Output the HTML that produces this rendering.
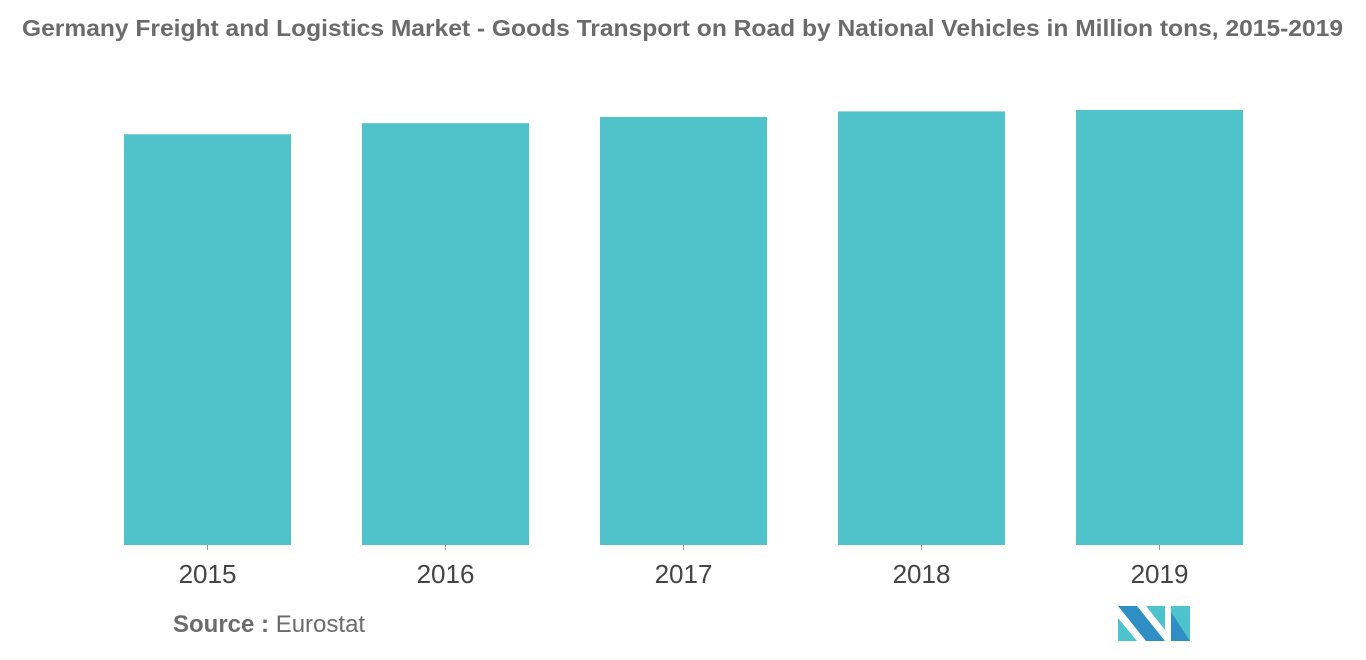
<!DOCTYPE html>
<html><head><meta charset="utf-8"><style>
body{margin:0;background:#fff;width:1366px;height:655px;overflow:hidden;font-family:"Liberation Sans",sans-serif}
</style></head><body>
<svg width="1366" height="655">
<text x="22" y="36" font-size="23" font-weight="bold" fill="#6b6b6b" textLength="1321" lengthAdjust="spacingAndGlyphs">Germany Freight and Logistics Market - Goods Transport on Road by National Vehicles in Million tons, 2015-2019</text>
<g id="bars"></g>
<text x="173" y="632" font-size="24" fill="#6b6b6b"><tspan font-weight="bold">Source :</tspan> Eurostat</text>
<g>
<polygon points="1118,606 1137,606 1165,641 1146,641" fill="#2f8fc4"/>
<polygon points="1118,618 1137,641 1118,641" fill="#4ec3cb"/>
<polygon points="1146,606 1165,606 1165,630" fill="#4ec3cb"/>
<polygon points="1171,606 1190,606 1190,641 1171,641" fill="#4ec3cb"/>
<polygon points="1171,612 1190,641 1171,641" fill="#2f8fc4"/>
</g>
</svg>
<script>
const categories=["2015","2016","2017","2018","2019"];
const values=[2960,3040,3085,3125,3135];
const baseY=545, yMax=3135, hMax=435, left=124, step=238, barW=167;
function y(v){return baseY - v/yMax*hMax;}
function x(i){return left+i*step;}
const g=document.getElementById('bars');
const ns="http://www.w3.org/2000/svg";
categories.forEach((c,i)=>{
 const r=document.createElementNS(ns,'rect');
 r.setAttribute('x',x(i));r.setAttribute('y',y(values[i]));
 r.setAttribute('width',barW);r.setAttribute('height',baseY-y(values[i]));
 r.setAttribute('fill','#50c2c9');
 
 
 g.appendChild(r);
 const t=document.createElementNS(ns,'line');
 const cx=x(i)+barW/2;
 t.setAttribute('x1',cx);t.setAttribute('x2',cx);t.setAttribute('y1',baseY);t.setAttribute('y2',baseY+5);
 t.setAttribute('stroke','#999');
 
 
 g.appendChild(t);
 const l=document.createElementNS(ns,'text');
 l.setAttribute('x',cx);l.setAttribute('y',583);l.setAttribute('text-anchor','middle');
 l.setAttribute('font-size','26');l.setAttribute('fill','#444');
 l.textContent=c;
 
 
 g.appendChild(l);
});
</script>
</body></html>
